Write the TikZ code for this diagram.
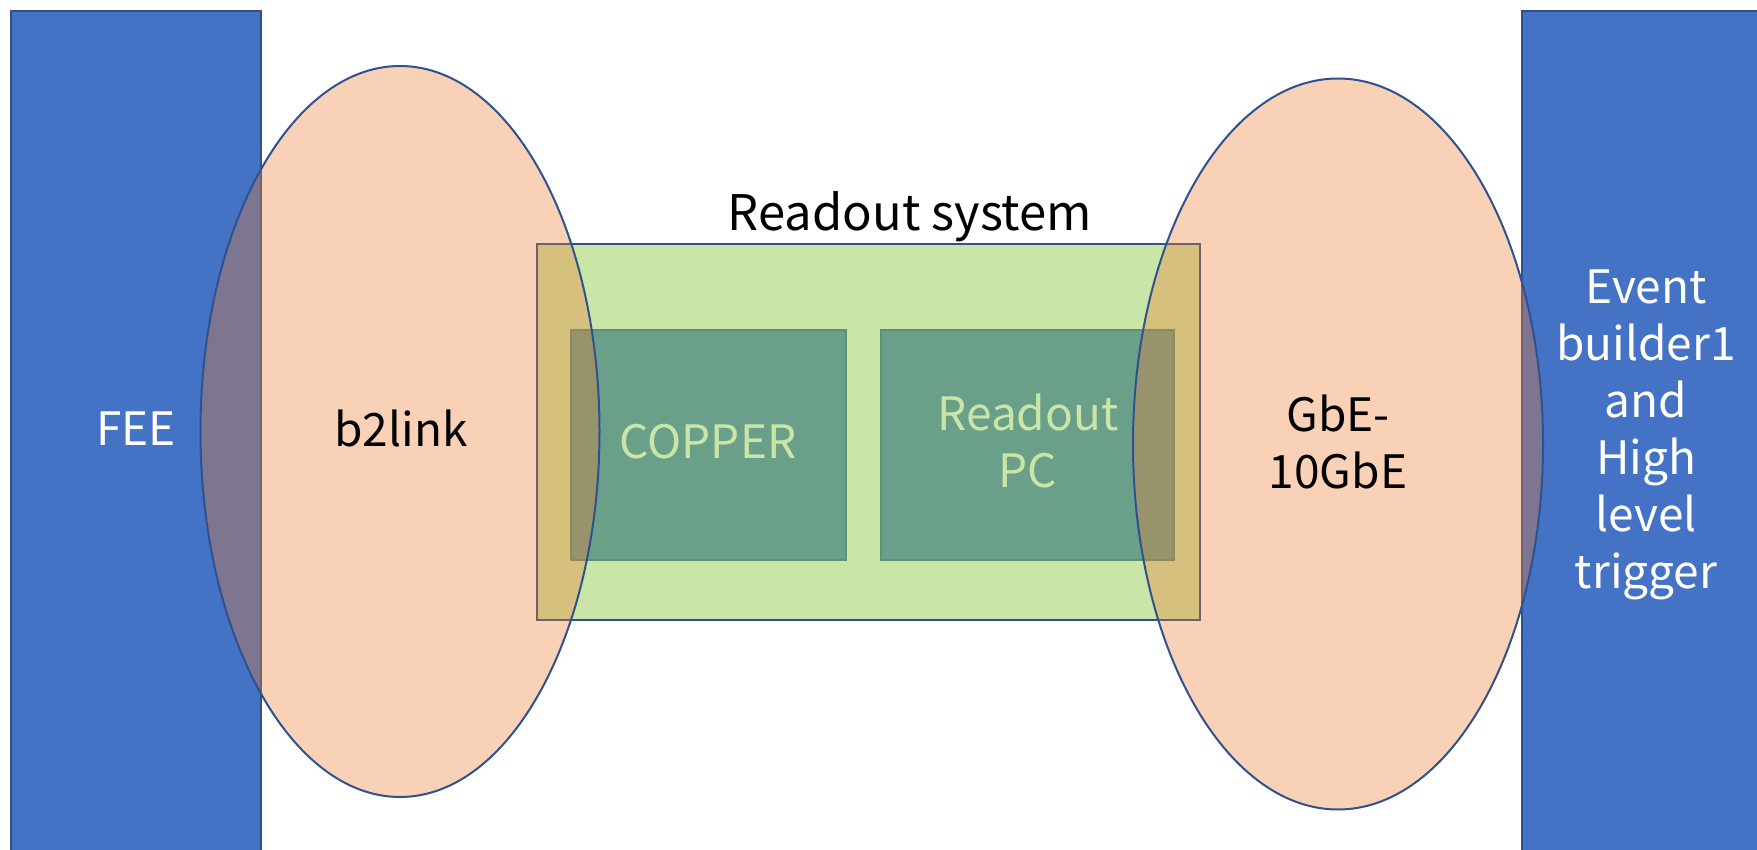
\documentclass[tikz,border=0pt]{standalone}
\usepackage{fontspec}
\setmainfont{Noto Sans CJK JP}
\usetikzlibrary{shapes.geometric}
\definecolor{bblue}{HTML}{4472C4}
\definecolor{bedge}{HTML}{2F528F}
\definecolor{orng}{HTML}{ED7D31}
\definecolor{lgreen}{HTML}{C9E6A7}
\definecolor{dgreen}{HTML}{6AA089}
\definecolor{dgedge}{HTML}{5E9277}
\begin{document}
\begin{tikzpicture}[x=1pt,y=-1pt,
  sidebox/.style={draw=bedge, line width=2pt, fill=bblue, rectangle, inner sep=0, anchor=north west},
  sysbox/.style={draw=bedge, line width=1.6pt, fill=lgreen, rectangle, inner sep=0, anchor=north west},
  unitbox/.style={draw=dgedge, line width=1.6pt, fill=dgreen, rectangle, inner sep=0, anchor=north west},
  linkell/.style={ellipse, draw=bedge, line width=2pt, fill=orng, fill opacity=0.35, inner sep=0},
  lbl/.style={font=\fontsize{46}{57}\selectfont, align=center, inner sep=0, anchor=base}]
\useasboundingbox (0,0) rectangle (1757,850);
\clip (0,0) rectangle (1757,850);
\fill[white] (0,0) rectangle (1757,850);
% side blocks
\node[sidebox, minimum width=250, minimum height=860] (fee) at (10,10) {};
\node[sidebox, minimum width=260, minimum height=860] (evb) at (1521,10) {};
% readout system
\node[sysbox, minimum width=663, minimum height=376] (sys) at (536,243) {};
\node[unitbox, minimum width=275, minimum height=230] (copper) at (570,329) {};
\node[unitbox, minimum width=293, minimum height=230] (rpc) at (880,329) {};
\node[lbl, text=lgreen] (coppert) at (708,458) {COPPER};
\node[lbl, text=lgreen] (rpct) at (1028,487) {Readout\\PC};
% links
\node[linkell, minimum width=399, minimum height=731] (b2link) at (400,431.5) {};
\node[linkell, minimum width=410, minimum height=731] (gbe) at (1338,444) {};
% labels
\node[lbl, text=white] (feet) at (136,445) {FEE};
\node[lbl] (b2linkt) at (401,446) {b2link};
\node[lbl] (gbet) at (1338,488) {GbE-\\10GbE};
\node[lbl, text=white] (evbt) at (1646,588) {Event\\builder1\\and\\High\\level\\trigger};
\node[lbl, font=\fontsize{49}{60}\selectfont] (syst) at (910,231) {Readout system};
\end{tikzpicture}
\end{document}
